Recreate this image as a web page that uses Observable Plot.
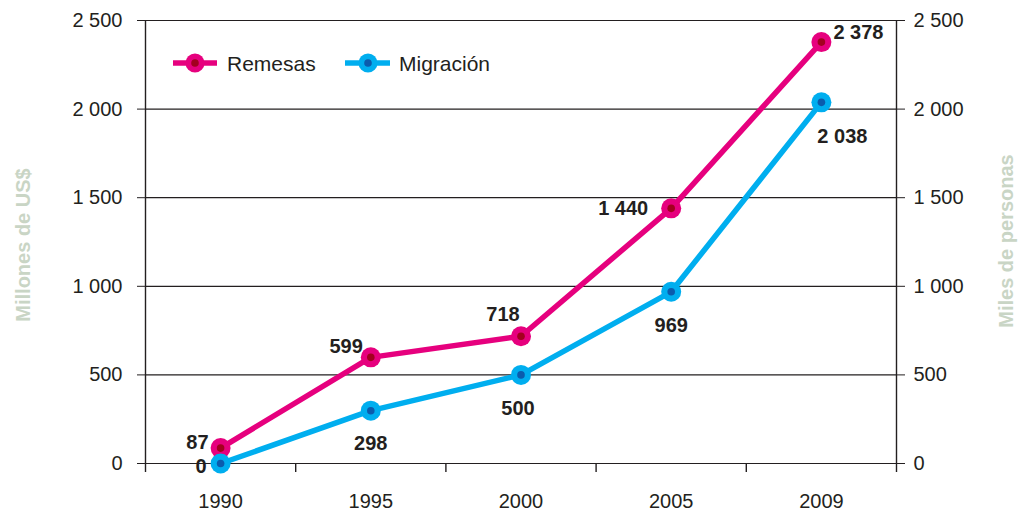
<!DOCTYPE html>
<html>
<head>
<meta charset="utf-8">
<script src="https://cdn.jsdelivr.net/npm/d3@7"></script>
<script src="https://cdn.jsdelivr.net/npm/@observablehq/plot@0.6"></script>
<style>
  html, body { margin: 0; padding: 0; background: #fff; }
  #wrap { position: relative; width: 1019px; height: 513px; font-family: "Liberation Sans", Arial, sans-serif; }
  #legend { position: absolute; left: 0; top: 0; width: 1019px; height: 513px; pointer-events: none; }
</style>
</head>
<body>
<div id="wrap"></div>
<script>
const years = ["1990", "1995", "2000", "2005", "2009"];
const remesas = [87, 599, 718, 1440, 2378];
const migracion = [0, 298, 500, 969, 2038];
const yTicks = [0, 500, 1000, 1500, 2000, 2500];
const seriesNames = ["Remesas", "Migración"];
const leftTitle = "Millones de US$";
const rightTitle = "Miles de personas";

const colors = { Remesas: "#e6007e", "Migración": "#00aeef" };
const inner = { Remesas: "#a3001f", "Migración": "#0b5cad" };
const FONT = '"Liberation Sans", Arial, sans-serif';

const fmt = d => d3.format(",")(d).replace(/,/g, " ");
const rows = [];
years.forEach((y, i) => {
  rows.push({ i: i + 0.5, year: y, value: remesas[i], series: "Remesas", idx: i });
  rows.push({ i: i + 0.5, year: y, value: migracion[i], series: "Migración", idx: i });
});
const rem = rows.filter(d => d.series === "Remesas");
const mig = rows.filter(d => d.series === "Migración");

const labelStyle = { x: "i", y: "value", text: d => fmt(d.value), fontWeight: "bold", fontSize: 20, fill: "#231f20" };
const lab = (data, filt, opts) => Plot.text(data.filter(filt), { ...labelStyle, ...opts });

const chart = Plot.plot({
  width: 1019,
  height: 513,
  marginLeft: 145,
  marginRight: 123,
  marginTop: 20,
  marginBottom: 50,
  style: { fontFamily: FONT, background: "#fff", color: "#231f20" },
  x: { type: "linear", domain: [0, 5], axis: null },
  y: { domain: [0, 2500], axis: null },
  marks: [
    Plot.ruleY(yTicks, { stroke: "#231f20", strokeWidth: 1.2 }),
    Plot.ruleX([0, 5], { stroke: "#231f20", strokeWidth: 1.4 }),
    Plot.axisX({ ticks: [0, 1, 2, 3, 4, 5], tickSize: 9, tickFormat: () => "", stroke: "#231f20", strokeWidth: 1.4, label: null }),
    Plot.axisX({ ticks: years.map((_, i) => i + 0.5), tickSize: 0, tickPadding: 30, tickFormat: d => years[Math.round(d - 0.5)], fontSize: 20, fill: "#231f20", label: null }),
    Plot.axisY({ anchor: "left", ticks: yTicks, tickSize: 8, tickPadding: 15, tickFormat: fmt, fontSize: 20, label: null, stroke: "#231f20" }),
    Plot.axisY({ anchor: "right", ticks: yTicks, tickSize: 8, tickPadding: 9, tickFormat: fmt, fontSize: 20, label: null, stroke: "#231f20" }),
    Plot.text([leftTitle], { frameAnchor: "left", textAnchor: "middle", dx: -122, dy: 3, rotate: -90, fontSize: 20, fontWeight: "bold", fill: "#c9d5c5" }),
    Plot.text([rightTitle], { frameAnchor: "right", textAnchor: "middle", dx: 110, dy: -1, rotate: -90, fontSize: 20, fontWeight: "bold", fill: "#c9d5c5" }),
    Plot.line(rows, { x: "i", y: "value", z: "series", stroke: d => colors[d.series], strokeWidth: 5.5 }),
    Plot.dot(rows, { x: "i", y: "value", r: 10, fill: d => colors[d.series], stroke: null }),
    Plot.dot(rows, { x: "i", y: "value", r: 3.8, fill: d => inner[d.series], stroke: null }),
    // Remesas labels
    lab(rem, d => d.idx === 0, { textAnchor: "end", dx: -12, dy: -5 }),
    lab(rem, d => d.idx === 1, { textAnchor: "end", dx: -8, dy: -11 }),
    lab(rem, d => d.idx === 2, { dx: -18, dy: -22 }),
    lab(rem, d => d.idx === 3, { textAnchor: "end", dx: -23, dy: 0 }),
    lab(rem, d => d.idx === 4, { textAnchor: "start", dx: 12, dy: -10 }),
    // Migración labels
    lab(mig, d => d.idx === 0, { textAnchor: "end", dx: -14, dy: 3 }),
    lab(mig, d => d.idx === 1, { dy: 33 }),
    lab(mig, d => d.idx === 2, { dx: -3, dy: 34 }),
    lab(mig, d => d.idx === 3, { dy: 34 }),
    lab(mig, d => d.idx === 4, { dx: 21, dy: 34 })
  ]
});
const wrap = document.getElementById("wrap");
wrap.appendChild(chart);

// Legend overlay
const ns = "http://www.w3.org/2000/svg";
const leg = document.createElementNS(ns, "svg");
leg.setAttribute("id", "legend");
leg.setAttribute("width", 1019);
leg.setAttribute("height", 513);
const legItems = [
  { name: seriesNames[0], x0: 173, x1: 217, cx: 195, tx: 227 },
  { name: seriesNames[1], x0: 345, x1: 390, cx: 368, tx: 399 }
];
legItems.forEach(it => {
  const l = document.createElementNS(ns, "line");
  l.setAttribute("x1", it.x0); l.setAttribute("x2", it.x1);
  l.setAttribute("y1", 63); l.setAttribute("y2", 63);
  l.setAttribute("stroke", colors[it.name]); l.setAttribute("stroke-width", 5.5);
  leg.appendChild(l);
  const c = document.createElementNS(ns, "circle");
  c.setAttribute("cx", it.cx); c.setAttribute("cy", 63); c.setAttribute("r", 9.5);
  c.setAttribute("fill", colors[it.name]);
  leg.appendChild(c);
  const c2 = document.createElementNS(ns, "circle");
  c2.setAttribute("cx", it.cx); c2.setAttribute("cy", 63); c2.setAttribute("r", 3.8);
  c2.setAttribute("fill", inner[it.name]);
  leg.appendChild(c2);
  const t = document.createElementNS(ns, "text");
  t.setAttribute("x", it.tx); t.setAttribute("y", 63);
  t.setAttribute("dy", "0.36em");
  t.setAttribute("font-size", 21);
  t.setAttribute("font-family", FONT);
  t.setAttribute("fill", "#231f20");
  t.textContent = it.name;
  leg.appendChild(t);
});
wrap.appendChild(leg);
</script>
</body>
</html>
